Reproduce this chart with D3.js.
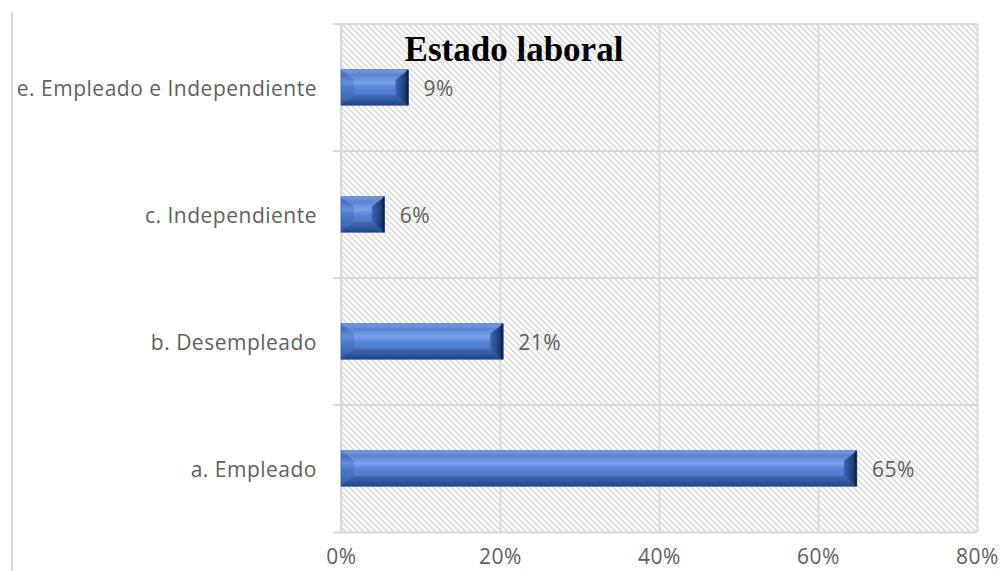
<!DOCTYPE html>
<html><head><meta charset="utf-8">
<script src="https://cdn.jsdelivr.net/npm/d3@7"></script>
<style>body{margin:0;background:#fff}svg{display:block}</style>
</head><body>
<svg id="chart" width="1000" height="571"></svg>
<script>
const categories = ["a. Empleado", "b. Desempleado", "c. Independiente", "e. Empleado e Independiente"];
const values = [64.9, 20.4, 5.5, 8.5];
const valueLabels = ["65%", "21%", "6%", "9%"];
const xTicks = [0, 20, 40, 60, 80];
const title = "Estado laboral";

const svg = d3.select("#chart");
const m = {left: 341, right: 977, top: 24, bottom: 532};
const x = d3.scaleLinear().domain([0, 80]).range([m.left, m.right]);
const y = d3.scaleBand().domain(categories).range([m.bottom, m.top]).paddingInner(0.72).paddingOuter(0.36);
const yb = d3.scaleBand().domain(categories).range([m.bottom, m.top]);

const font = {family: "Open Sans", size: 21, ls: "0.5px", color: "#5f5f5f"};
const styleText = sel => sel.attr("fill", font.color).attr("font-family", font.family)
  .attr("font-size", font.size).attr("letter-spacing", font.ls);

const defs = svg.append("defs");
const P = 6;
const pat = defs.append("pattern").attr("id","hatch").attr("patternUnits","userSpaceOnUse").attr("width",P).attr("height",P);
pat.append("rect").attr("width",P).attr("height",P).attr("fill","#fff");
pat.append("path").attr("d",`M-2,-2 L${P+2},${P+2} M-2,${P-2} L2,${P+2} M${P-2},-2 L${P+2},2`).attr("stroke","#dcdcdc").attr("stroke-width",1.7);

const g1 = defs.append("linearGradient").attr("id","face").attr("x1",0).attr("y1",0).attr("x2",0).attr("y2",1);
[[0,"#6a93de"],[0.15,"#4f7bd0"],[0.36,"#77a2ea"],[0.5,"#5a87d7"],[0.8,"#4672c2"],[1,"#2a4d92"]].forEach(s=>g1.append("stop").attr("offset",s[0]).attr("stop-color",s[1]));
const gr = defs.append("linearGradient").attr("id","rightBevel").attr("x1",0).attr("y1",0).attr("x2",1).attr("y2",0);
[[0,"#3a62ad"],[0.6,"#1d3b78"],[1,"#0c1d40"]].forEach(s=>gr.append("stop").attr("offset",s[0]).attr("stop-color",s[1]));

// left decorative line
svg.append("line").attr("x1",12).attr("x2",12).attr("y1",12).attr("y2",571).attr("stroke","#d9d9d9").attr("stroke-width",2);

// plot background
svg.append("rect").attr("x",m.left).attr("y",m.top).attr("width",m.right-m.left).attr("height",m.bottom-m.top).attr("fill","url(#hatch)");

// vertical gridlines + x axis
svg.append("g").attr("transform",`translate(0,${m.bottom})`)
  .call(d3.axisBottom(x).tickValues(xTicks).tickSize(-(m.bottom-m.top)).tickFormat(d=>d+"%").tickPadding(17))
  .call(g=>g.select(".domain").attr("stroke","#d9d9d9").attr("stroke-width",2).attr("d",`M${m.left-8},0.5H${m.right}`))
  .call(g=>g.selectAll(".tick line").attr("stroke","#d9d9d9").attr("stroke-width",2))
  .call(g=>g.selectAll(".tick text").call(styleText));

// horizontal gridlines at category boundaries
const bounds = categories.map(c=>yb(c));
svg.append("g").selectAll("line").data(bounds).join("line")
  .attr("x1",m.left-8).attr("x2",m.right).attr("y1",d=>d).attr("y2",d=>d)
  .attr("stroke","#d9d9d9").attr("stroke-width",2);
svg.append("line").attr("x1",m.left).attr("x2",m.left).attr("y1",m.top).attr("y2",m.bottom).attr("stroke","#d9d9d9").attr("stroke-width",2);

// category labels
svg.append("g").attr("transform",`translate(${m.left},2)`)
  .call(d3.axisLeft(y).tickSize(0).tickPadding(24))
  .call(g=>g.select(".domain").remove())
  .call(g=>g.selectAll(".tick text").call(styleText));

// bars
const bars = svg.append("g").selectAll("g").data(categories).join("g");
bars.each(function(c,i){
  const gg = d3.select(this);
  const x0 = x(0), x1 = x(values[i]), y0 = y(c), h = y.bandwidth(), y1 = y0+h;
  const bv = Math.min(13, (x1-x0)/3), bh = 10;
  gg.append("rect").attr("x",x0).attr("y",y0).attr("width",x1-x0).attr("height",h).attr("fill","url(#face)");
  gg.append("path").attr("d",`M${x0},${y0}L${x1},${y0}L${x1-bv},${y0+bh}L${x0+bv},${y0+bh}Z`).attr("fill","#ffffff").attr("opacity",0.06);
  gg.append("path").attr("d",`M${x0},${y1}L${x1},${y1}L${x1-bv},${y1-bh}L${x0+bv},${y1-bh}Z`).attr("fill","#0b2350").attr("opacity",0.22);
  gg.append("path").attr("d",`M${x0},${y0}L${x0+bv},${y0+bh}L${x0+bv},${y1-bh}L${x0},${y1}Z`).attr("fill","#2c54a0").attr("opacity",0.25);
  gg.append("path").attr("d",`M${x1},${y0}L${x1-bv},${y0+bh}L${x1-bv},${y1-bh}L${x1},${y1}Z`).attr("fill","url(#rightBevel)").attr("opacity",0.9);
  gg.append("line").attr("x1",x1-1).attr("x2",x1-1).attr("y1",y0).attr("y2",y1).attr("stroke","#0f2047").attr("stroke-width",2);
  gg.append("rect").attr("x",x0).attr("y",y0).attr("width",x1-x0).attr("height",h).attr("fill","none").attr("stroke","#3a62aa").attr("stroke-width",0.6);
  gg.append("text").attr("x",x1+15).attr("y",y0+h/2+1).attr("dy","0.35em").call(styleText).text(valueLabels[i]);
});

svg.append("text").attr("x",514).attr("y",61).attr("text-anchor","middle")
  .attr("font-family","Liberation Serif").attr("font-weight","bold").attr("font-size",35).attr("fill","#000")
  .text(title);
</script>
</body></html>
